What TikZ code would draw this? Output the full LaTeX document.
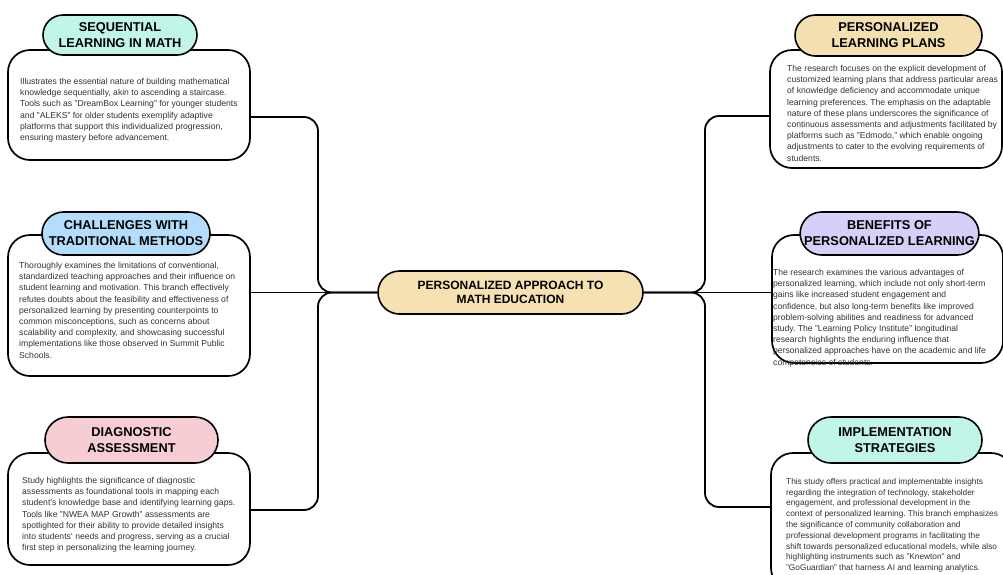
\documentclass[tikz,border=0pt]{standalone}
\usepackage{fontspec}
\setmainfont{Liberation Sans}
\usetikzlibrary{shapes.misc}
\definecolor{mint}{HTML}{C1F5E8}
\definecolor{skyb}{HTML}{B3DDFB}
\definecolor{pinkc}{HTML}{F6CDD2}
\definecolor{tanc}{HTML}{F3DFAF}
\definecolor{lavc}{HTML}{D6D0F8}
\definecolor{centc}{HTML}{F5E1B2}
\definecolor{textgray}{HTML}{333333}
\begin{document}
\begin{tikzpicture}[x=1pt,y=-1pt,
  bodybox/.style={draw, line width=1.7pt, rounded corners=22pt, fill=white, inner sep=0pt, rectangle},
  pill/.style={draw, line width=1.6pt, rounded rectangle, inner sep=0pt, align=center,
    font=\fontsize{12.8}{16}\selectfont\bfseries},
  btext/.style={align=left, inner sep=0pt, text=textgray, anchor=north west,
    font=\fontsize{8.6}{11.2}\selectfont\frenchspacing},
  conn/.style={line width=1.8pt, rounded corners=14pt}]
\useasboundingbox (0,0) rectangle (1003,574);
\clip (0,0) rectangle (1003,574);
\fill[white] (0,0) rectangle (1003,574);

% center
\node[pill, fill=centc, minimum width=265pt, minimum height=43pt,
  font=\fontsize{12}{14}\selectfont\bfseries] (c) at (510.5,292.5) {PERSONALIZED APPROACH TO\\MATH EDUCATION};

% bodies
\node[bodybox, minimum width=242pt, minimum height=110pt] (b1) at (129,105) {};
\node[bodybox, minimum width=242pt, minimum height=141pt] (b2) at (129,305.5) {};
\node[bodybox, minimum width=242pt, minimum height=112pt] (b3) at (129,509) {};
\node[bodybox, minimum width=232pt, minimum height=118pt] (b4) at (886,109) {};
\node[bodybox, minimum width=231pt, minimum height=128pt] (b5) at (887.5,299) {};
\node[bodybox, minimum width=242pt, minimum height=137pt] (b6) at (892,521.5) {};

% junctions
\coordinate (jl) at (318,292.5);
\coordinate (jr) at (705,292.5);

% connectors
\draw[conn] ([yshift=-12pt]b1.east) -| (jl) -- (c.west);
\draw[conn] ([yshift=-1pt]b3.east) -| (jl) -- (c.west);
\draw[conn] ([yshift=13pt]b2.east) -- (c.west);
\draw[conn] (c.east) -- (jr) |- ([yshift=-7pt]b4.west);
\draw[conn] (c.east) -- (jr) |- ([yshift=14.5pt]b6.west);
\draw[conn] (c.east) -- ([yshift=6.5pt]b5.west);

% titles
\node[pill, fill=mint, minimum width=154pt, minimum height=40pt] (t1) at (120,35) {SEQUENTIAL\\LEARNING IN MATH};
\node[pill, fill=skyb, minimum width=168pt, minimum height=43pt] (t2) at (126,233.5) {CHALLENGES WITH\\TRADITIONAL METHODS};
\node[pill, fill=pinkc, minimum width=173pt, minimum height=46pt] (t3) at (131.5,440) {DIAGNOSTIC\\ASSESSMENT};
\node[pill, fill=tanc, minimum width=187pt, minimum height=41pt] (t4) at (888.5,35.5) {PERSONALIZED\\LEARNING PLANS};
\node[pill, fill=lavc, minimum width=175pt, minimum height=43pt] (t5) at (889.5,233.5) {BENEFITS OF\\PERSONALIZED LEARNING};
\node[pill, fill=mint, minimum width=174pt, minimum height=46pt] (t6) at (895,440) {IMPLEMENTATION\\STRATEGIES};

% body texts
\node[btext] (x1) at (20,78) {Illustrates the essential nature of building mathematical\\
knowledge sequentially, akin to ascending a staircase.\\
Tools such as "DreamBox Learning" for younger students\\
and "ALEKS" for older students exemplify adaptive\\
platforms that support this individualized progression,\\
ensuring mastery before advancement.};

\node[btext] (x2) at (19,262) {Thoroughly examines the limitations of conventional,\\
standardized teaching approaches and their influence on\\
student learning and motivation. This branch effectively\\
refutes doubts about the feasibility and effectiveness of\\
personalized learning by presenting counterpoints to\\
common misconceptions, such as concerns about\\
scalability and complexity, and showcasing successful\\
implementations like those observed in Summit Public\\
Schools.};

\node[btext] (x3) at (22,477) {Study highlights the significance of diagnostic\\
assessments as foundational tools in mapping each\\
student's knowledge base and identifying learning gaps.\\
Tools like "NWEA MAP Growth" assessments are\\
spotlighted for their ability to provide detailed insights\\
into students' needs and progress, serving as a crucial\\
first step in personalizing the learning journey.};

\node[btext] (x4) at (787,65) {The research focuses on the explicit development of\\
customized learning plans that address particular areas\\
of knowledge deficiency and accommodate unique\\
learning preferences. The emphasis on the adaptable\\
nature of these plans underscores the significance of\\
continuous assessments and adjustments facilitated by\\
platforms such as "Edmodo," which enable ongoing\\
adjustments to cater to the evolving requirements of\\
students.};

\node[btext] (x5) at (773,269) {The research examines the various advantages of\\
personalized learning, which include not only short-term\\
gains like increased student engagement and\\
confidence, but also long-term benefits like improved\\
problem-solving abilities and readiness for advanced\\
study. The "Learning Policy Institute" longitudinal\\
research highlights the enduring influence that\\
personalized approaches have on the academic and life\\
competencies of students.};

\node[btext, font=\fontsize{8.3}{10.8}\selectfont\frenchspacing] (x6) at (786,478) {This study offers practical and implementable insights\\
regarding the integration of technology, stakeholder\\
engagement, and professional development in the\\
context of personalized learning. This branch emphasizes\\
the significance of community collaboration and\\
professional development programs in facilitating the\\
shift towards personalized educational models, while also\\
highlighting instruments such as "Knewton" and\\
"GoGuardian" that harness AI and learning analytics.};
\end{tikzpicture}
\end{document}
